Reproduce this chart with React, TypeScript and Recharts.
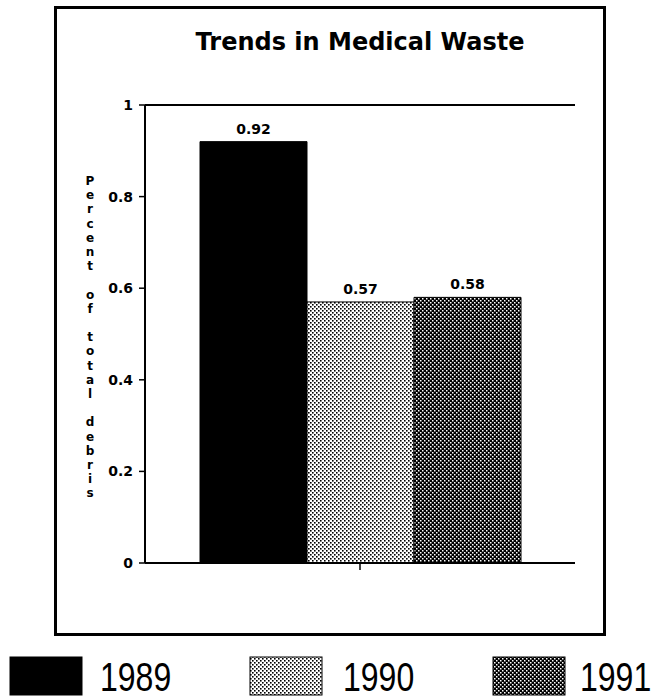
import React from "react";
import { BarChart, Bar, XAxis, YAxis, LabelList, ReferenceLine } from "recharts";

const categories = [""];
const years = ["1989", "1990", "1991"];
const wasteShare = [0.92, 0.57, 0.58];
const yTicks = [0, 0.2, 0.4, 0.6, 0.8, 1];
const yLabel = "Percent of total debris";
const title = "Trends in Medical Waste";

const fills = ["#000", "url(#lightDots)", "url(#darkDots)"];

const chartData = categories.map((name) => {
  const row: Record<string, string | number> = { name };
  years.forEach((yr, i) => {
    row[yr] = wasteShare[i];
  });
  return row;
});

const boldFont = "'DejaVu Sans', sans-serif";

// letters of the axis title stacked one under the other
function StackedLabel(props: any) {
  const vb = props.viewBox || { x: 65, y: 105 };
  const cx = vb.x + 25;
  const top = vb.y + 80;
  return (
    <text
      textAnchor="middle"
      fontFamily={boldFont}
      fontWeight="bold"
      fontSize={12}
      fill="#000"
    >
      {yLabel.split("").map((ch, i) => (
        <tspan key={i} x={cx} y={top + i * 14.2}>
          {ch === " " ? "" : ch}
        </tspan>
      ))}
    </text>
  );
}

export default function App() {
  return (
    <div style={{ position: "absolute", left: 0, top: 0, width: 658, height: 700, background: "#fff" }}>
      <svg width={0} height={0} style={{ position: "absolute" }}>
        <defs>
          <pattern id="lightDots" width={4} height={4} patternUnits="userSpaceOnUse">
            <rect width={4} height={4} fill="#fff" />
            <rect x={0} y={0} width={1.6} height={1.6} fill="#000" />
            <rect x={2} y={2} width={1.6} height={1.6} fill="#000" />
          </pattern>
          <pattern id="darkDots" width={4} height={4} patternUnits="userSpaceOnUse">
            <rect width={4} height={4} fill="#000" />
            <rect x={0} y={0} width={1.5} height={1.5} fill="#fff" />
            <rect x={2} y={2} width={1.5} height={1.5} fill="#fff" />
          </pattern>
        </defs>
      </svg>

      <div
        style={{
          position: "absolute",
          left: 54,
          top: 6,
          width: 546,
          height: 624,
          border: "3px solid #000",
        }}
      />

      <div
        style={{
          position: "absolute",
          left: 0,
          top: 30,
          width: 720,
          textAlign: "center",
          fontFamily: boldFont,
          fontWeight: "bold",
          fontSize: 24,
          lineHeight: "24px",
        }}
      >
        {title}
      </div>

      <div style={{ position: "absolute", left: 0, top: 0 }}>
        <BarChart
          width={658}
          height={700}
          data={chartData}
          margin={{ top: 105, right: 83, bottom: 107, left: 65 }}
          barGap={0}
        >
          <XAxis
            dataKey="name"
            height={30}
            axisLine={{ stroke: "#000", strokeWidth: 2 }}
            tickLine={{ stroke: "#000", strokeWidth: 1.5 }}
            tickSize={7}
            tickFormatter={() => ""}
          />
          <YAxis
            width={80}
            domain={[0, 1]}
            ticks={yTicks}
            interval={0}
            tickFormatter={(v: number) => String(v)}
            axisLine={{ stroke: "#000", strokeWidth: 2 }}
            tickLine={{ stroke: "#000", strokeWidth: 1.5 }}
            tickSize={6}
            tickMargin={6}
            tick={{ fontFamily: boldFont, fontWeight: "bold", fontSize: 14, fill: "#000" }}
            label={<StackedLabel />}
          />
          <ReferenceLine y={1} stroke="#000" strokeWidth={2} ifOverflow="visible" />
          {years.map((yr, i) => (
            <Bar
              key={yr}
              dataKey={yr}
              barSize={107}
              fill={fills[i]}
              stroke="#000"
              strokeWidth={1}
              isAnimationActive={false}
            >
              <LabelList
                dataKey={yr}
                position="top"
                offset={8}
                formatter={(v: any) => Number(v).toFixed(2)}
                style={{ fontFamily: boldFont, fontWeight: "bold", fontSize: 14, fill: "#000" }}
              />
            </Bar>
          ))}
        </BarChart>
      </div>

      <svg width={658} height={700} style={{ position: "absolute", left: 0, top: 0, pointerEvents: "none" }}>
        {years.map((yr, i) => {
          const swatchX = [10, 250, 493][i];
          const textX = [100, 343, 580][i];
          return (
            <g key={yr}>
              <rect x={swatchX} y={657} width={72} height={38} fill={fills[i]} stroke="#000" strokeWidth={1} />
              <text
                transform={`translate(${textX},691) scale(0.8,1)`}
                fontFamily="'Liberation Sans', Arial, sans-serif"
                fontSize={40}
                fill="#000"
              >
                {yr}
              </text>
            </g>
          );
        })}
      </svg>
    </div>
  );
}
